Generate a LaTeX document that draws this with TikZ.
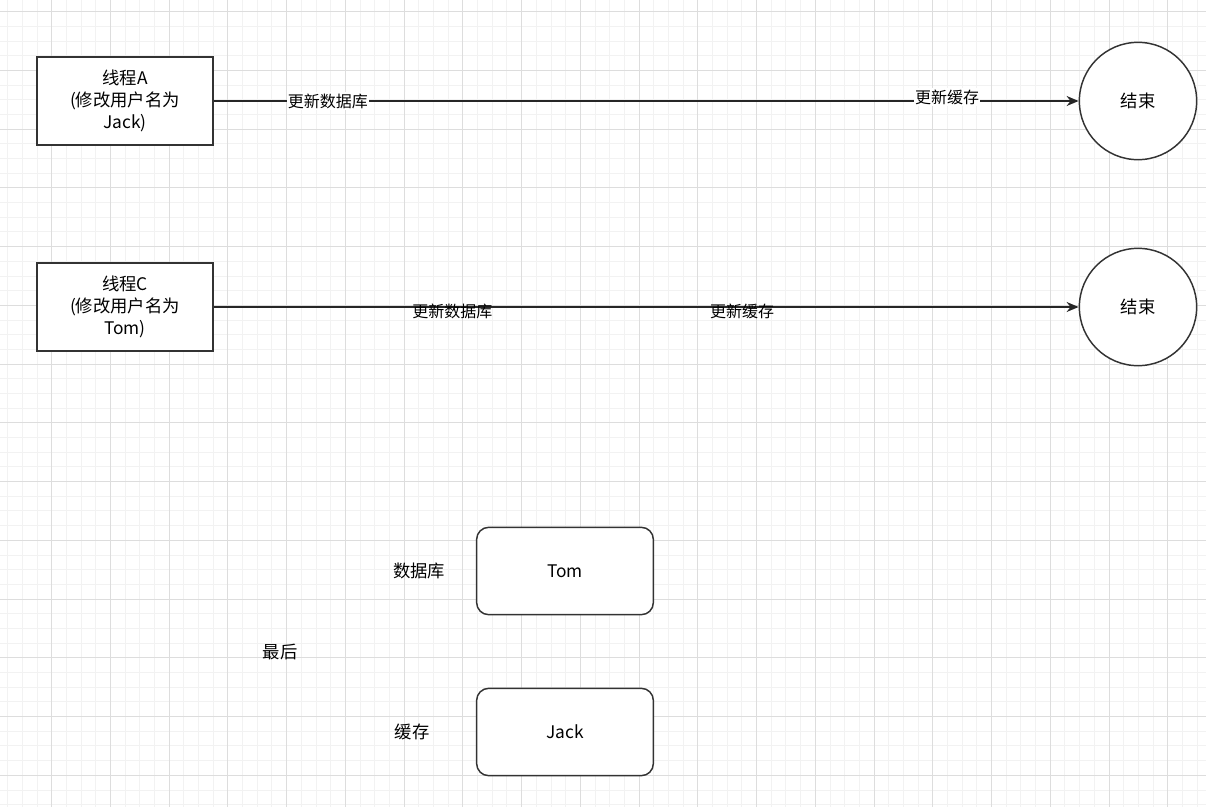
\documentclass[tikz,border=0pt]{standalone}
\usepackage{fontspec}
\setmainfont{Noto Sans CJK SC}
\usetikzlibrary{arrows.meta,positioning}
\definecolor{gridminor}{HTML}{F2F2F2}
\definecolor{gridmajor}{HTML}{DDDDDD}
\definecolor{ink}{HTML}{333333}

\begin{document}
\begin{tikzpicture}[x=0.75pt,y=-0.75pt,>={Stealth[length=9pt,width=7.5pt]},
 thread/.style={draw=ink,line width=1.1pt,fill=white,align=center,minimum width=132pt,minimum height=66pt,inner sep=0pt,font=\fontsize{13}{16.5}\selectfont},
 endnode/.style={circle,draw=ink,line width=1.1pt,fill=white,minimum size=88pt,inner sep=0pt,font=\fontsize{13}{16}\selectfont},
 store/.style={draw=ink,line width=1.1pt,fill=white,rounded corners=9pt,minimum width=132.5pt,minimum height=65.5pt,font=\fontsize{13}{16}\selectfont},
 lbl/.style={inner sep=1pt,font=\fontsize{12}{14}\selectfont},
 note/.style={inner sep=1pt,font=\fontsize{13}{16}\selectfont},
 flow/.style={->,line width=1.1pt,draw=black!85}]
\useasboundingbox (0,0) rectangle (1206,807);
\fill[white] (0,0) rectangle (1206,807);
% grid
\foreach \k in {0,...,81} \draw[gridminor,line width=0.75pt] (7.66+14.685*\k,0) -- (7.66+14.685*\k,807);
\foreach \k in {0,...,54} \draw[gridminor,line width=0.75pt] (0,11.7+14.685*\k) -- (1206,11.7+14.685*\k);
\foreach \k in {0,...,19} \draw[gridmajor,line width=0.75pt] (51.7+58.74*\k,0) -- (51.7+58.74*\k,807);
\foreach \k in {0,...,13} \draw[gridmajor,line width=0.75pt] (0,11.7+58.74*\k) -- (1206,11.7+58.74*\k);

\node[thread] (thA) at (125,101) {线程A\\(修改用户名为\\Jack)};
\node[endnode] (endA) at (1138,101) {结束};
\node[thread] (thC) at (125,307) {线程C\\(修改用户名为\\Tom)};
\node[endnode] (endC) at (1138,307) {结束};

\node[store] (db) at (565,571) {Tom};
\node[store] (cache) at (565,732) {Jack};
\node[note] (dbname) at (419,571) {数据库};
\node[note] (cachename) at (412,732) {缓存};
\node[note] (last) at (280,652) {最后};

\draw[flow] (thA) -- (endA)
  node[lbl,fill=white,pos=0.132] {更新数据库}
  node[lbl,fill=white,pos=0.848,yshift=3pt] {更新缓存};
\draw[flow] (thC) -- (endC)
  node[lbl,pos=0.276,yshift=-3pt] {更新数据库}
  node[lbl,pos=0.611,yshift=-3pt] {更新缓存};
\end{tikzpicture}
\end{document}
